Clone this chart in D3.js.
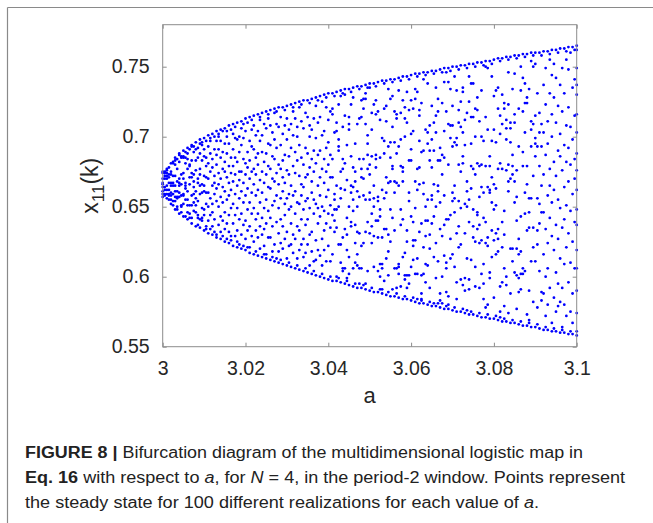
<!DOCTYPE html>
<html>
<head>
<meta charset="utf-8">
<script src="https://cdn.jsdelivr.net/npm/d3@7"></script>
<style>
  html, body { margin: 0; padding: 0; background: #ffffff; }
  svg { display: block; }
  text { font-family: "Liberation Sans", Arial, Helvetica, sans-serif; }
</style>
</head>
<body>
<div id="chart"></div>
<script>
// ---------------- DATA ----------------
const xTicks = [3, 3.02, 3.04, 3.06, 3.08, 3.1];
const yTicks = [0.55, 0.6, 0.65, 0.7, 0.75];
const xLabel = "a";
const captionLines = [
  [{t: "FIGURE 8 | ", b: true}, {t: "Bifurcation diagram of the multidimensional logistic map in"}],
  [{t: "Eq. 16", b: true}, {t: " with respect to "}, {t: "a", i: true}, {t: ", for "}, {t: "N", i: true}, {t: " = 4, in the period-2 window. Points represent"}],
  [{t: "the steady state for 100 different realizations for each value of "}, {t: "a", i: true}, {t: "."}]
];

// parameter a values
const aValues = [
3.0000,3.0005,3.0010,3.0015,3.0020,3.0025,3.0030,3.0035,3.0040,3.0045,
3.0050,3.0055,3.0060,3.0065,3.0070,3.0075,3.0080,3.0085,3.0090,3.0095,
3.0100,3.0105,3.0110,3.0115,3.0120,3.0125,3.0130,3.0135,3.0140,3.0145,
3.0150,3.0155,3.0160,3.0165,3.0170,3.0175,3.0180,3.0185,3.0190,3.0195,
3.0200,3.0205,3.0210,3.0215,3.0220,3.0225,3.0230,3.0235,3.0240,3.0245,
3.0250,3.0255,3.0260,3.0265,3.0270,3.0275,3.0280,3.0285,3.0290,3.0295,
3.0300,3.0305,3.0310,3.0315,3.0320,3.0325,3.0330,3.0335,3.0340,3.0345,
3.0350,3.0355,3.0360,3.0365,3.0370,3.0375,3.0380,3.0385,3.0390,3.0395,
3.0400,3.0405,3.0410,3.0415,3.0420,3.0425,3.0430,3.0435,3.0440,3.0445,
3.0450,3.0455,3.0460,3.0465,3.0470,3.0475,3.0480,3.0485,3.0490,3.0495,
3.0500,3.0505,3.0510,3.0515,3.0520,3.0525,3.0530,3.0535,3.0540,3.0545,
3.0550,3.0555,3.0560,3.0565,3.0570,3.0575,3.0580,3.0585,3.0590,3.0595,
3.0600,3.0605,3.0610,3.0615,3.0620,3.0625,3.0630,3.0635,3.0640,3.0645,
3.0650,3.0655,3.0660,3.0665,3.0670,3.0675,3.0680,3.0685,3.0690,3.0695,
3.0700,3.0705,3.0710,3.0715,3.0720,3.0725,3.0730,3.0735,3.0740,3.0745,
3.0750,3.0755,3.0760,3.0765,3.0770,3.0775,3.0780,3.0785,3.0790,3.0795,
3.0800,3.0805,3.0810,3.0815,3.0820,3.0825,3.0830,3.0835,3.0840,3.0845,
3.0850,3.0855,3.0860,3.0865,3.0870,3.0875,3.0880,3.0885,3.0890,3.0895,
3.0900,3.0905,3.0910,3.0915,3.0920,3.0925,3.0930,3.0935,3.0940,3.0945,
3.0950,3.0955,3.0960,3.0965,3.0970,3.0975,3.0980,3.0985,3.0990,3.0995,
3.1000];

// steady-state x11 values (thousandths) read for each a value
const x11Milli = [
[675,657,664,674,659,667,661,670,666],[662,672,659,674,670,664,658,675],
[677,656,670,662,672,659,676,665,674],[667,673,678,659,662,658,671,655],
[681,652,675,673,660,658,667,655,665],[672,659,654,681,667,651,665,682],
[685,648,661,654,665,680,657,672,683],[657,648,656,661,650,677,668,684],
[688,645,657,682,670,665,687,660,667],[686,658,651,685,666,650,673,646],
[690,643,686,674,659,685,652,658,670],[665,655,663,685,643,681,667,689],
[692,641,655,684,651,677,646,661,688],[680,645,671,651,691,666,679,642],
[694,638,671,651,642,683,674,658,693],[673,659,689,664,653,668,647,693],
[696,636,651,656,691,646,676,683,661],[644,685,670,667,642,692,654,637],
[698,635,677,665,641,659,688,673,695],[666,642,683,649,694,640,660,696],
[699,633,665,686,644,691,648,661,672],[679,652,685,636,697,660,671,634],
[701,631,640,681,660,693,650,670],[634,697,656,675,644,688,699],
[702,630,665,636,678,652,684,646],[672,700,659,691,641,667,632],
[704,628,680,630,697,654,687,663],[637,674,650,691,666,700,702],
[705,627,657,685,632,670,697,643],[677,653,704,640,664,689,629],
[706,625,646,675,634,695,661,682],[700,655,671,627,688,638,704],
[708,624,667,695,644,679,632,658],[685,649,705,629,674,662,626],
[709,622,638,691,668,652,702,679],[659,629,685,644,699,673,707],
[710,621,698,633,665,682,649,625],[675,641,700,656,689,669,623],
[711,620,645,694,675,630,661,706],[684,653,622,667,699,637,709],
[713,619,658,681,640,704,673,627],[689,648,710,663,633,678,621],
[714,617,670,636,697,653,683,621],[705,660,629,675,645,693,712],
[715,616,649,691,666,625,708,677],[633,658,685,701,641,673,618],
[716,615,680,628,662,704,645,688],[620,669,712,653,697,636,714],
[717,614,660,701,630,675,642,689],[709,649,682,622,667,634,616],
[718,613,688,638,673,616,706,655],[664,628,695,647,679,713,716],
[719,612,642,677,708,628,663,694],[651,686,618,703,636,670,614],
[720,611,668,623,698,654,684,717],[639,674,613,692,658,709,718],
[721,610,631,680,649,707,666,618],[694,656,714,641,677,624,612],
[721,609,702,661,636,683,620,671],[644,687,627,708,667,652,719],
[722,608,676,613,656,698,632,713],[648,686,622,673,705,659,610],
[723,607,638,692,665,623,709,650],[679,617,701,658,630,718,721],
[724,606,661,627,689,645,713,674],[613,700,636,683,653,707,608],
[725,605,694,652,619,672,721,633],[666,641,711,685,623,658,723],
[726,604,648,680,614,706,664,627],[692,637,671,717,654,617,606],
[726,603,673,714,641,623,688,656],[608,700,649,678,630,708,724],
[727,602,632,684,660,705,618,668],[713,645,690,611,675,655,604],
[728,601,681,626,699,652,722,612],[665,638,710,619,687,649,726],
[729,600,643,690,671,615,714,658],[701,627,677,725,650,608,602],
[730,599,619,667,704,647,684,633],[657,721,611,692,638,675,728],
[731,598,662,712,622,680,645,696],[611,671,635,718,687,651,600],
[731,597,616,671,720,684,644,716],[703,640,648,659,632,655,729],
[732,597,648,600,704,665,635,710],[623,693,690,650,723,698,599],
[733,596,610,675,623,729,663,656],[677,628,606,707,684,604,731],
[734,595,634,681,606,730,715,662],[599,669,630,642,694,619,597],
[734,594,602,705,709,614,650,714],[665,639,723,636,686,660,732],
[735,593,606,647,655,678,728,664],[675,624,637,695,668,610,595],
[736,592,650,709,632,661,608,616],[657,595,713,606,631,684,734],
[736,592,726,714,622,606,671,677],[684,658,624,727,720,670,594],
[737,591,727,595,709,731,655,632],[695,604,701,687,677,639,735],
[738,590,655,680,631,660,673,735],[624,645,717,705,636,686,592],
[738,589,629,607,650,723,665,656],[684,716,687,726,640,678,736],
[739,589,640,718,604,657,654,628],[685,712,609,648,643,600,591],
[740,588,628,591,662,609,606,699],[697,656,720,634,688,597,738],
[740,587,634,671,722,613,660,711],[667,601,618,734,630,693,589],
[741,586,625,648,727,696,668,685],[642,707,729,677,591,679,739],
[741,586,696,606,633,668,718,660],[713,592,688,667,606,716,588],
[742,585,607,693,665,733,609,602],[679,717,637,593,698,648,740],
[743,584,641,675,678,726,614,668],[598,617,721,601,700,713,586],
[743,584,732,625,601,710,633,592],[601,719,660,595,654,683,741],
[744,583,643,726,683,702,607,691],[639,612,720,704,626,622,585],
[745,582,727,602,626,734,649,668],[584,613,662,602,677,732,743],
[745,581,697,715,632,666,719,678],[588,601,638,689,584,724,583],
[746,581,659,602,667,690,621,741],[705,650,609,596,640,629,744],
[746,580,738,655,703,640,695,608],[683,708,620,592,690,630,582],
[747,579,638,722,658,678,655,698],[643,614,710,666,581,690,745],
[747,579,650,703,599,624,735,715],[718,665,611,661,683,727,581],
[748,578,634,692,583,683,653,588],[673,687,629,724,581,600,746],
[749,577,739,704,685,637,615,658],[641,610,589,718,606,746,579],
[749,577,680,739,641,580,709,586],[644,613,699,708,627,734,747],
[750,576,708,654,616,722,693,660],[607,656,743,696,646,665,578],
[750,575,631,733,584,694,596,699],[654,621,636,680,719,710,748],
[751,575,725,675,598,649,707,623],[732,681,735,703,686,594,577],
[751,574,712,631,599,694,652,590],[576,613,661,668,650,717,749],
[752,573,655,598,743,725,639,591],[663,714,612,679,695,738,575],
[752,573,677,738,636,648,628,714],[673,593,700,625,720,607,750],
[753,572,681,728,644,634,646,719],[679,592,637,624,711,657,574],
[753,571,700,626,733,680,664,602],[584,609,595,660,697,642,751],
[754,571,750,639,624,714,578,679],[664,580,749,628,705,622,573],
[754,570,599,660,686,603,679,662],[614,653,743,671,633,697,752],
[755,570,585,626,729,648,666,705],[733,616,631,651,696,663,572],
[756,569,634,618,735,627,677,720],[702,571,681,575,593,715,754],
[756,568,639,709,621,730,677,596],[630,606,724,720,647,579,570],
[757,568,600,676,712,698,594,706],[574,680,723,668,661,746,755],
[757,567,620,710,670,696,706,588],[679,673,620,687,734,611,569],
[758,567,668,716,710,745,653,603],[657,620,601,676,640,577,756],
[758,566,627,599,589,616,720,693],[591,643,602,618,733,750,568],
[759,565,742,602,679,718,606,689],[604,660,738,703,724,645,757],
[759,565,724,728,679,573,666,633],[635,569,734,656,590,646,567],
[760,564,693,611,754,711,705,656],[582,635,621,750,672,709,758],
[760,564,752,699,695,686,715,611],[578,693,623,633,731,656,566],
[760,563,679,652,703,638,604,717],[665,589,693,646,709,583,758],
[761,562,588,703,646,737,616,673],[572,749,634,687,600,723,564],
[761,562,658,580,695,624,711,606],[677,755,642,731,592,665,759],
[762,561,700,567,744,629,716,653],[585,682,619,728,662,752,563],
[762,561,637,710,575,672,742,603],[690,627,579,595,655,722,760],
[763,560,613,686,582,737,649,702],[749,635,676,564,718,592,562],
[763,560,664,731,609,694,580,641],[708,621,755,572,682,651,761],
[764,559,596,721,668,631,748,692],[647,575,707,610,760,680,561],
[764,559,735,588,659,698,625,567],[684,606,741,639,715,670,762],
[765,558,762,749,737,730,716,703,688,676,662,648,637,619,606,590,574,561]
];

// ---------------- CHART ----------------
const W = 653, H = 523;
const svg = d3.select("#chart").append("svg").attr("width", W).attr("height", H);

// outer figure frame (top and left lines)
svg.append("line").attr("x1", 7.5).attr("y1", 7.5).attr("x2", W).attr("y2", 7.5)
  .attr("stroke", "#8a8a8a").attr("stroke-width", 1.2);
svg.append("line").attr("x1", 7.5).attr("y1", 7.5).attr("x2", 7.5).attr("y2", H)
  .attr("stroke", "#8a8a8a").attr("stroke-width", 1.2);

const plot = {left: 162.7, right: 576.7, top: 24.7, bottom: 346.7};
const x = d3.scaleLinear().domain([3, 3.1]).range([plot.left, plot.right]);
const y = d3.scaleLinear().domain([0.55, 0.78]).range([plot.bottom, plot.top]);

const points = aValues.flatMap((a, i) => x11Milli[i].map(v => ({a: a, v: v / 1000})));

svg.append("g").selectAll("circle").data(points).join("circle")
  .attr("cx", d => x(d.a)).attr("cy", d => y(d.v)).attr("r", 1.4)
  .attr("fill", "#0000ff");

const axisColor = "#8c8c8c";
const fmt = d => String(d);
function styleAxis(g, showLabels) {
  g.select(".domain").remove();
  g.selectAll(".tick line").attr("stroke", axisColor).attr("stroke-width", 1);
  g.selectAll(".tick text").attr("fill", "#262626")
    .style("font-size", "19.5px").style("font-family", "'Liberation Sans', Arial, sans-serif");
  if (!showLabels) g.selectAll(".tick text").remove();
}
svg.append("g").attr("transform", `translate(0,${plot.bottom})`)
  .call(d3.axisBottom(x).tickValues(xTicks).tickFormat(fmt).tickSizeInner(-4).tickSizeOuter(0).tickPadding(14))
  .call(g => styleAxis(g, true));
svg.append("g").attr("transform", `translate(0,${plot.top})`)
  .call(d3.axisTop(x).tickValues(xTicks).tickSizeInner(-4).tickSizeOuter(0))
  .call(g => styleAxis(g, false));
svg.append("g").attr("transform", `translate(${plot.left},0)`)
  .call(d3.axisLeft(y).tickValues(yTicks).tickFormat(fmt).tickSizeInner(-4).tickSizeOuter(0).tickPadding(13))
  .call(g => styleAxis(g, true));
svg.append("g").attr("transform", `translate(${plot.right},0)`)
  .call(d3.axisRight(y).tickValues(yTicks).tickSizeInner(-4).tickSizeOuter(0))
  .call(g => styleAxis(g, false));

// box
svg.append("rect").attr("x", plot.left).attr("y", plot.top)
  .attr("width", plot.right - plot.left).attr("height", plot.bottom - plot.top)
  .attr("fill", "none").attr("stroke", axisColor).attr("stroke-width", 1);

// x label
svg.append("text").attr("x", (plot.left + plot.right) / 2).attr("y", 403)
  .attr("text-anchor", "middle").attr("fill", "#262626").style("font-size", "22px").text(xLabel);

// y label x_11(k)
const yl = svg.append("text").attr("transform", `translate(98,${(plot.top + plot.bottom) / 2}) rotate(-90)`)
  .attr("text-anchor", "middle").attr("fill", "#262626").style("font-size", "23px");
yl.append("tspan").text("x");
yl.append("tspan").attr("dy", 6).style("font-size", "17px").text("11");
yl.append("tspan").attr("dy", -6).text("(k)");

// caption
const capX = 25, capBase = [458.3, 483.3, 508.3], capRight = [583, 625, 539];
captionLines.forEach((line, li) => {
  const t = svg.append("text").attr("x", capX).attr("y", capBase[li])
    .attr("fill", "#222").style("font-size", "16px")
    .attr("textLength", capRight[li] - capX).attr("lengthAdjust", "spacingAndGlyphs");
  line.forEach(seg => {
    const s = t.append("tspan").text(seg.t);
    if (seg.b) s.style("font-weight", "bold");
    if (seg.i) s.style("font-style", "italic");
  });
});
</script>
</body>
</html>
